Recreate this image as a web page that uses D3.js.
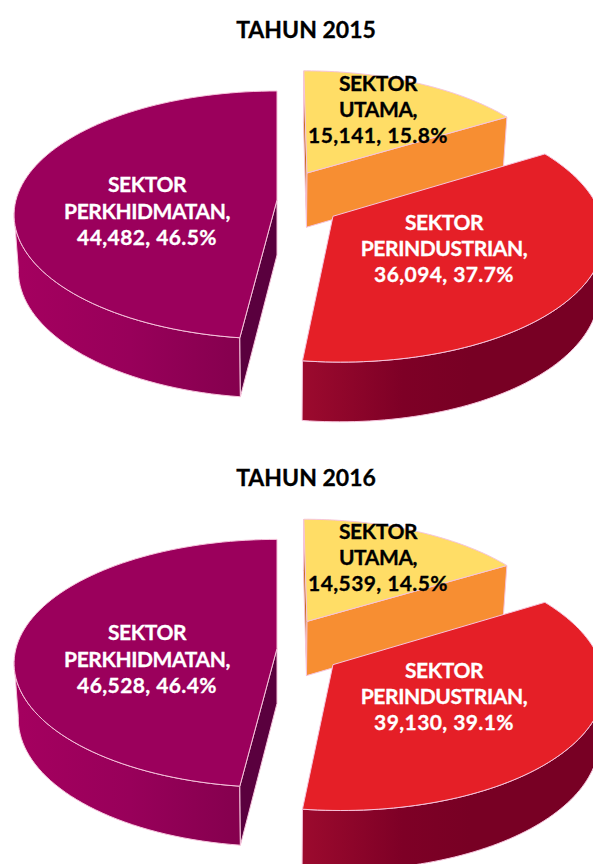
<!DOCTYPE html>
<html>
<head>
<meta charset="utf-8">
<script src="https://cdn.jsdelivr.net/npm/d3@7/dist/d3.min.js"></script>
<style>html,body{margin:0;padding:0;background:#fff;overflow:hidden}svg{display:block}</style>
</head>
<body>
<div id="c"></div>
<script>
// ---- data ----
const years = ["TAHUN 2015", "TAHUN 2016"];
const sectorLines = [["SEKTOR", "UTAMA,"], ["SEKTOR", "PERINDUSTRIAN,"], ["SEKTOR", "PERKHIDMATAN,"]];
const values2015 = [15141, 36094, 44482];
const values2016 = [14539, 39130, 46528];
const percent2015 = [15.8, 37.7, 46.5];
const percent2016 = [14.5, 39.1, 46.4];
// The reference draws both pies with one identical shape, whatever the labels say:
// these are the slice sizes as measured on the picture.
const drawnShares = [16.3, 35.7, 48.0];

// ---- layout and style ----
const W = 593, H = 864;
const font = "Lato, 'Open Sans', sans-serif";
const persp = 0.121;
const scaleX = d3.scaleLinear().domain([-1, 1]).range([277 - 261, 277 + 261]);
const scaleY = d3.scaleLinear().domain([-1, 1]).range([122.2, -122.2]);
const floor = {xk: 0.984, yk: 1.029, dy: 55};
const explode = [[0.118, 0.227], [0.211, -0.131], [0, 0]];
const radius = [0.985, 1.012, 1];
const topFill = ["#ffdd66", "#e51f27", "#9b005c"];
const textFill = ["#000", "#fff", "#fff"];
const labelPos = [[378, [82, 108, 134]], [444, [221, 247, 273]], [147, [183, 210, 236]]];
const stroke = "#f6c4dc";

const svg = d3.select("#c").append("svg").attr("width", W).attr("height", H);
const defs = svg.append("defs");
function grad(id, x1, x2, stops) {
  const g = defs.append("linearGradient").attr("id", id).attr("gradientUnits", "userSpaceOnUse")
    .attr("x1", x1).attr("x2", x2).attr("y1", 0).attr("y2", 0);
  stops.forEach(s => g.append("stop").attr("offset", s[0]).attr("stop-color", s[1]));
}
grad("wallRed", 302, 470, [[0, "#9c0a2e"], [0.6, "#7e0026"], [1, "#780024"]]);
grad("wallPurple", 20, 240, [[0, "#a4005f"], [0.5, "#98005a"], [1, "#85004e"]]);

// projection of a point of the pie plane to the picture
function proj(u, v, low) {
  const s = 1 / (1 + persp * v);
  const x0 = scaleX(0), y0 = 200;
  const dx = scaleX(u * s) - x0, dy = scaleY(v * s) - scaleY(0);
  return low ? [x0 + dx * floor.xk, y0 + floor.dy + dy * floor.yk] : [x0 + dx, y0 + dy];
}
const closed = d3.line().curve(d3.curveLinearClosed);
const pie = d3.pie().sort(null).value(d => d);

function arcPts(d, i, low) {
  const n = 90, [ou, ov] = explode[i], r = radius[i];
  return d3.range(n + 1).map(k => {
    const a = d.startAngle + (d.endAngle - d.startAngle) * k / n;
    return proj(ou + r * Math.sin(a), ov + r * Math.cos(a), low);
  });
}
function apex(i, low) { return proj(explode[i][0], explode[i][1], low); }

function poly(g, pts, fill) {
  g.append("path").attr("d", closed(pts)).attr("fill", fill).attr("stroke", stroke)
    .attr("stroke-width", 1).attr("stroke-linejoin", "round");
}

function label(g, x, y, t, size, fill, spacing) {
  g.append("text").attr("x", x).attr("y", y).attr("text-anchor", "middle")
    .attr("dominant-baseline", "central").attr("font-family", font).attr("font-weight", 700)
    .attr("font-size", size).attr("letter-spacing", spacing).attr("fill", fill)
    .attr("stroke", fill).attr("stroke-width", 0.3).text(t);
}

function drawPie(dy, title, values, percents) {
  const g = svg.append("g").attr("transform", `translate(0,${dy})`);
  const arcs = pie(drawnShares);
  // Yellow slice
  const a0T = arcPts(arcs[0], 0, false), a0L = arcPts(arcs[0], 0, true);
  poly(g, [apex(0, false), a0T[0], a0L[0], apex(0, true)], "#c8701c");
  poly(g, [apex(0, false), a0T[a0T.length - 1], a0L[a0L.length - 1], apex(0, true)], "#f78e32");
  poly(g, [apex(0, false), ...a0T], topFill[0]);
  // Red slice: outer wall from the rightmost point of the rim to the front edge
  const a1T = arcPts(arcs[1], 1, false), a1L = arcPts(arcs[1], 1, true);
  const m1 = d3.greatestIndex(a1T, p => p[0]);
  poly(g, [...a1T.slice(m1), ...a1L.slice(m1).reverse()], "url(#wallRed)");
  poly(g, [apex(1, false), ...a1T], topFill[1]);
  // Purple slice: outer wall from the front edge to the leftmost point of the rim
  const a2T = arcPts(arcs[2], 2, false), a2L = arcPts(arcs[2], 2, true);
  const m2 = d3.leastIndex(a2T, p => p[0]);
  poly(g, [...a2T.slice(0, m2 + 1), ...a2L.slice(0, m2 + 1).reverse()], "url(#wallPurple)");
  poly(g, [apex(2, false), a2T[0], a2L[0], apex(2, true)], "#5a003e");
  poly(g, [apex(2, false), ...a2T], topFill[2]);

  label(g, 306, 29, title, 23, "#000", 0);

  const fmt = d3.format(",");
  values.forEach((v, i) => {
    sectorLines[i].forEach((t, j) => label(g, labelPos[i][0], labelPos[i][1][j], t, 21, textFill[i], -0.4));
    label(g, labelPos[i][0], labelPos[i][1][2], `${fmt(v)}, ${percents[i].toFixed(1)}%`, 21, textFill[i], 0.4);
  });
}
drawPie(0, years[0], values2015, percent2015);
drawPie(448.4, years[1], values2016, percent2016);
</script>
</body>
</html>
